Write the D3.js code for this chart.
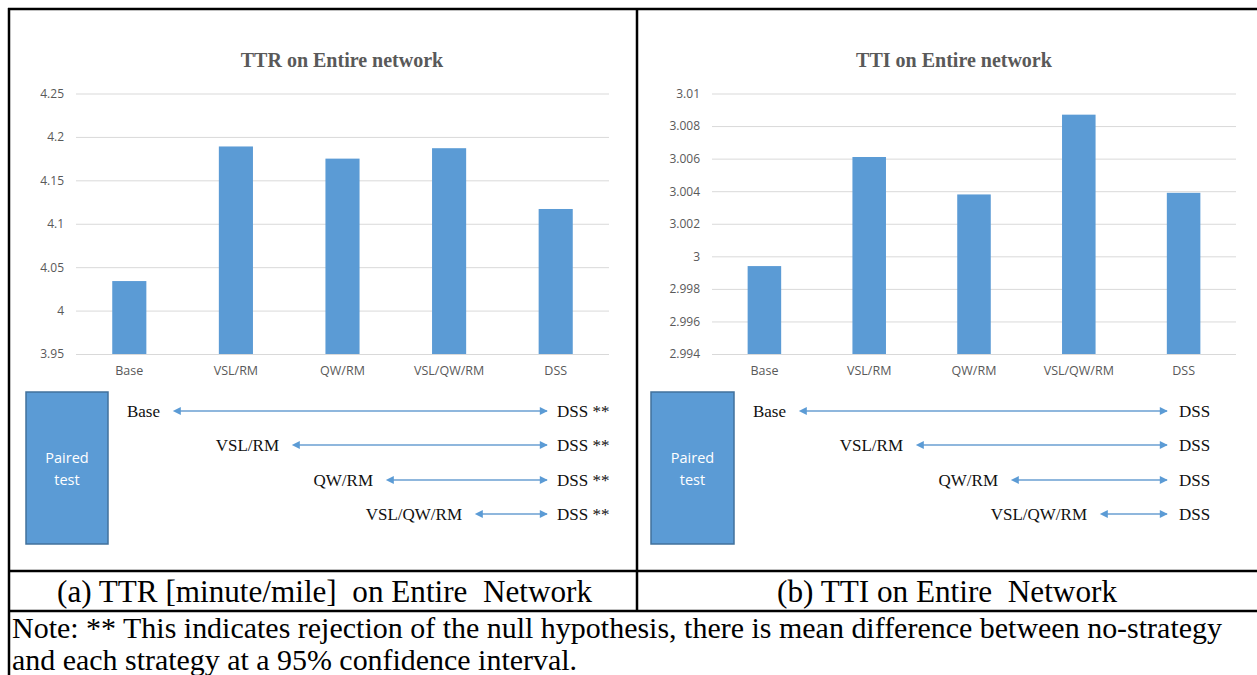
<!DOCTYPE html>
<html><head><meta charset="utf-8">
<script src="https://cdn.jsdelivr.net/npm/d3@7"></script>
<style>html,body{margin:0;padding:0;background:#fff;}svg{display:block;}</style>
</head><body>
<svg id="c" width="1257" height="675"></svg>
<script>
// ---- data ----
const categories = ["Base", "VSL/RM", "QW/RM", "VSL/QW/RM", "DSS"];
const ttrValues = [4.034, 4.189, 4.175, 4.187, 4.117];
const ttiValues = [2.9994, 3.0061, 3.0038, 3.0087, 3.0039];
const ttrTicks = [3.95, 4, 4.05, 4.1, 4.15, 4.2, 4.25];
const ttrTickLabels = ["3.95", "4", "4.05", "4.1", "4.15", "4.2", "4.25"];
const ttiTicks = [2.994, 2.996, 2.998, 3, 3.002, 3.004, 3.006, 3.008, 3.01];
const ttiTickLabels = ["2.994", "2.996", "2.998", "3", "3.002", "3.004", "3.006", "3.008", "3.01"];
const pairedFrom = ["Base", "VSL/RM", "QW/RM", "VSL/QW/RM"];
const pairedTo = "DSS";
const ttrSignificant = ["**", "**", "**", "**"];
const ttiSignificant = ["", "", "", ""];
const titles = ["TTR on Entire network", "TTI on Entire network"];
const captions = ["(a) TTR [minute/mile]  on Entire  Network", "(b) TTI on Entire  Network"];
const noteLines = ["Note: ** This indicates rejection of the null hypothesis, there is mean difference between no-strategy",
                   "and each strategy at a 95% confidence interval."];

// ---- layout ----
const svg = d3.select("#c");
svg.append("rect").attr("width", 1257).attr("height", 675).attr("fill", "#fff");
const BAR = "#5b9bd5", GRID = "#d9d9d9", TXT = "#595959";
const serif = "'Liberation Serif','Times New Roman',serif";
const sans = "'Open Sans','Liberation Sans',sans-serif";

const panels = [
  {values: ttrValues, ticks: ttrTicks, labels: ttrTickLabels, domain: [3.95, 4.25], x0: 76, x1: 609, titleX: 342,
   sig: ttrSignificant, box: [26, 108], textEnds: [160, 279, 373, 462], arrowEnd: 547, dssX: 557},
  {values: ttiValues, ticks: ttiTicks, labels: ttiTickLabels, domain: [2.994, 3.01], x0: 712, x1: 1236, titleX: 954,
   sig: ttiSignificant, box: [651, 734], textEnds: [786, 903, 998, 1087], arrowEnd: 1167, dssX: 1179}
];
const yTop = 93.5, yBot = 354;
const rowY = [411, 445, 480, 514];

// arrowhead markers
const defs = svg.append("defs");
["s", "e"].forEach(k => {
  defs.append("marker").attr("id", "arr" + k).attr("viewBox", "0 0 10 10")
    .attr("refX", k === "e" ? 9 : 1).attr("refY", 5).attr("markerWidth", 9).attr("markerHeight", 8)
    .attr("markerUnits", "userSpaceOnUse").attr("orient", k === "e" ? "auto" : "auto-start-reverse")
    .append("path").attr("d", "M0,0 L10,5 L0,10 Z").attr("fill", "#5b9bd5");
});

panels.forEach((p, pi) => {
  const x = d3.scaleBand().domain(categories).range([p.x0, p.x1]).paddingInner(0.68).paddingOuter(0.34);
  const y = d3.scaleLinear().domain(p.domain).range([yBot, yTop]);
  const g = svg.append("g");

  // gridlines
  const grid = g.append("g").attr("transform", `translate(${p.x0},0)`)
    .call(d3.axisLeft(y).tickValues(p.ticks).tickSize(-(p.x1 - p.x0)).tickFormat(""));
  grid.select(".domain").remove();
  grid.selectAll("line").attr("stroke", GRID).attr("stroke-width", 1);

  // y labels
  const ya = g.append("g").attr("transform", `translate(${p.x0 - 12},0)`)
    .call(d3.axisLeft(y).tickValues(p.ticks).tickSize(0).tickPadding(0)
      .tickFormat((d, i) => p.labels[i]));
  ya.select(".domain").remove();
  ya.selectAll("text").attr("fill", TXT).style("font-family", sans).style("font-size", "12px");

  // bars
  g.selectAll("rect.bar").data(p.values).join("rect").attr("class", "bar")
    .attr("x", (d, i) => x(categories[i])).attr("width", x.bandwidth())
    .attr("y", d => y(d)).attr("height", d => yBot - y(d)).attr("fill", BAR);

  // x labels
  const xa = g.append("g").attr("transform", `translate(0,${yBot})`)
    .call(d3.axisBottom(x).tickSize(0).tickPadding(12));
  xa.select(".domain").remove();
  xa.selectAll("text").attr("fill", TXT).style("font-family", sans).style("font-size", "12.5px");

  // title
  g.append("text").attr("x", p.titleX).attr("y", 67).attr("text-anchor", "middle")
    .attr("fill", TXT).style("font-family", serif).style("font-weight", "bold").style("font-size", "20px")
    .text(titles[pi]);

  // paired test box
  g.append("rect").attr("x", p.box[0]).attr("y", 392).attr("width", p.box[1] - p.box[0]).attr("height", 152)
    .attr("fill", BAR).attr("stroke", "#41719c").attr("stroke-width", 1.5);
  const bx = (p.box[0] + p.box[1]) / 2;
  ["Paired", "test"].forEach((t, i) => {
    g.append("text").attr("x", bx).attr("y", 463 + i * 22).attr("text-anchor", "middle")
      .attr("fill", "#fff").style("font-family", sans).style("font-size", "14.5px").text(t);
  });

  // paired rows
  pairedFrom.forEach((name, i) => {
    const ry = rowY[i];
    g.append("text").attr("x", p.textEnds[i]).attr("y", ry + 5.5).attr("text-anchor", "end")
      .attr("fill", "#111").style("font-family", serif).style("font-size", "17px").text(name);
    const end = p.textEnds[i];
    g.append("line").attr("x1", end + 20).attr("x2", p.arrowEnd).attr("y1", ry).attr("y2", ry)
      .attr("stroke", "#6a9fd2").attr("stroke-width", 1.3)
      .attr("marker-start", "url(#arrs)").attr("marker-end", "url(#arre)");
    g.append("text").attr("x", p.dssX).attr("y", ry + 5.5)
      .attr("fill", "#111").style("font-family", serif).style("font-size", "17px")
      .text(pairedTo + (p.sig[i] ? " " + p.sig[i] : ""));
  });
});

// captions
const capSpan = [[57, 592], [777, 1117]];
capSpan.forEach((s, i) => {
  svg.append("text").attr("x", s[0]).attr("y", 602)
    .attr("textLength", s[1] - s[0]).attr("lengthAdjust", "spacingAndGlyphs")
    .style("white-space", "pre")
    .attr("fill", "#000").style("font-family", serif).style("font-size", "31px").text(captions[i]);
});

// note
const noteSpan = [1210, 565];
noteLines.forEach((t, i) => {
  svg.append("text").attr("x", 12).attr("y", 638 + i * 32)
    .attr("textLength", noteSpan[i]).attr("lengthAdjust", "spacingAndGlyphs")
    .attr("fill", "#000").style("font-family", serif).style("font-size", "29px").text(t);
});

// table borders
const B = svg.append("g").attr("stroke", "#000").attr("stroke-width", 2.5);
B.append("line").attr("x1", 9).attr("x2", 9).attr("y1", 8).attr("y2", 675);
B.append("line").attr("x1", 8).attr("x2", 1257).attr("y1", 9).attr("y2", 9);
B.append("line").attr("x1", 637).attr("x2", 637).attr("y1", 9).attr("y2", 611);
B.append("line").attr("x1", 8).attr("x2", 1257).attr("y1", 571).attr("y2", 571);
B.append("line").attr("x1", 8).attr("x2", 1257).attr("y1", 611).attr("y2", 611);
</script>
</body></html>
